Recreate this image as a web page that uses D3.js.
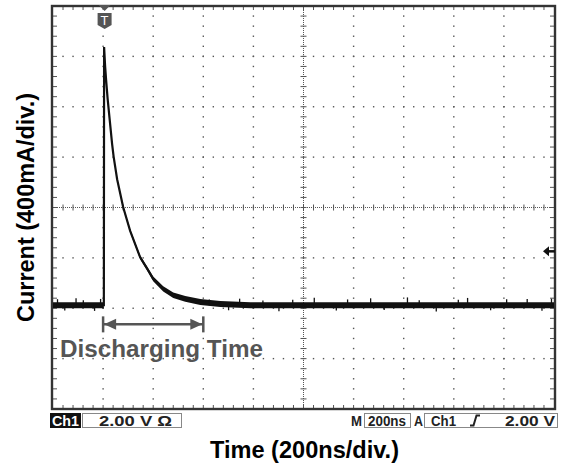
<!DOCTYPE html>
<html><head><meta charset="utf-8">
<script src="https://cdn.jsdelivr.net/npm/d3@7"></script>
<style>body{margin:0;background:#fff}svg{display:block}text{font-family:"Liberation Sans",Arial,sans-serif}</style>
</head><body><svg id="c" width="564" height="465"></svg>
<script>
// ---- data ----
const timeNs    = [0, 203, 204, 208, 212, 218, 226, 236, 242, 256, 280, 308, 348, 376, 400, 440, 480, 528, 588, 668, 788, 2000];
const currentMA = [0, 0, 2050, 1900, 1790, 1640, 1480, 1280, 1180, 1000, 780, 590, 380, 290, 210, 130, 80, 50, 25, 10, 0, 0];
const noiseMA   = [24, 24, 5, 8, 8, 8, 8, 8, 9, 10, 11, 13, 15, 17, 19, 21, 22, 23, 24, 24, 24, 24];
const spikeTimeNs = [18, 47, 92, 121, 166, 190, 624, 701, 745, 838, 902, 957, 1043, 1131, 1176, 1268, 1322, 1415, 1462, 1530, 1618, 1655, 1747, 1811, 1893, 1952, 1990];
const spikeMA     = [48, -42, 55, 40, -45, 50, 45, -40, 52, 38, -48, 44, 60, -42, 46, 55, -38, 62, 40, -50, 44, 58, -40, 48, 50, -44, 52];
const xDivCount = 10, yDivCount = 8;
const nsPerDiv = 200, mAPerDiv = 400;
const groundDiv = -1.94;       // ground level, divisions from centre
const triggerLevelDiv = -0.87; // trigger level marker on right edge
const dischargeStartNs = 200, dischargeEndNs = 600, dischargeLabelDiv = -2.32;
const statusLeft = ["Ch1", "2.00 V \u03A9"];
const statusRight = ["M", "200ns", "A", "Ch1", "2.00 V"];
const xTitle = "Time (200ns/div.)";
const yTitle = "Current (400mA/div.)";
const annotation = "Discharging Time";

// ---- drawing ----
const svg = d3.select("#c");
const L = 53, R = 554, T = 6, B = 409;
const x = d3.scaleLinear().domain([0, xDivCount * nsPerDiv]).range([L, R]);
const yd = d3.scaleLinear().domain([-yDivCount / 2, yDivCount / 2]).range([B, T]);
const yI = v => yd(groundDiv + v / mAPerDiv);
const xDiv = d => x(d * nsPerDiv);
const grid = svg.append("g");
const gc = "#555";

// dotted graticule lines
for (let i = 1; i < xDivCount; i++) {
  if (i === xDivCount / 2) continue;
  for (let k = 1; k < yDivCount * 5; k++) {
    grid.append("rect").attr("x", xDiv(i) - 0.7).attr("y", yd(-4 + k / 5) - 0.7).attr("width", 1.4).attr("height", 1.4).attr("fill", gc);
  }
}
for (let j = -yDivCount / 2 + 1; j < yDivCount / 2; j++) {
  if (j === 0) continue;
  for (let k = 1; k < xDivCount * 5; k++) {
    grid.append("rect").attr("x", xDiv(k / 5) - 0.7).attr("y", yd(j) - 0.7).attr("width", 1.4).attr("height", 1.4).attr("fill", gc);
  }
}
// centre lines with minor ticks
grid.append("line").attr("x1", L).attr("x2", R).attr("y1", yd(0)).attr("y2", yd(0)).attr("stroke", gc).attr("stroke-width", 1).attr("stroke-dasharray", "1,1");
grid.append("line").attr("y1", T).attr("y2", B).attr("x1", xDiv(5)).attr("x2", xDiv(5)).attr("stroke", gc).attr("stroke-width", 1).attr("stroke-dasharray", "1,1");
for (let k = 1; k < xDivCount * 5; k++) {
  const xx = xDiv(k / 5);
  grid.append("line").attr("x1", xx).attr("x2", xx).attr("y1", yd(0) - 3).attr("y2", yd(0) + 3).attr("stroke", gc).attr("stroke-width", 1);
  grid.append("line").attr("x1", xx).attr("x2", xx).attr("y1", T).attr("y2", T + 4).attr("stroke", gc).attr("stroke-width", 1);
  grid.append("line").attr("x1", xx).attr("x2", xx).attr("y1", B - 4).attr("y2", B).attr("stroke", gc).attr("stroke-width", 1);
}
for (let k = 1; k < yDivCount * 5; k++) {
  const yy = yd(-4 + k / 5);
  grid.append("line").attr("y1", yy).attr("y2", yy).attr("x1", xDiv(5) - 3).attr("x2", xDiv(5) + 3).attr("stroke", gc).attr("stroke-width", 1);
  grid.append("line").attr("y1", yy).attr("y2", yy).attr("x1", L).attr("x2", L + 4).attr("stroke", gc).attr("stroke-width", 1);
  grid.append("line").attr("y1", yy).attr("y2", yy).attr("x1", R - 4).attr("x2", R).attr("stroke", gc).attr("stroke-width", 1);
}
// frame
svg.append("rect").attr("x", L - 1).attr("y", T).attr("width", R - L + 2).attr("height", B - T)
  .attr("fill", "none").attr("stroke", "#333").attr("stroke-width", 2.4);

// trace envelope + centre line
const pts = timeNs.map((t, i) => ({ t, v: currentMA[i], n: noiseMA[i] }));
svg.append("path").datum(pts)
  .attr("d", d3.area().x(d => x(d.t)).y0(d => yI(d.v - d.n)).y1(d => yI(d.v + d.n)))
  .attr("fill", "#111");
svg.append("path").datum(pts)
  .attr("d", d3.line().x(d => x(d.t)).y(d => yI(d.v)))
  .attr("fill", "none").attr("stroke", "#111").attr("stroke-width", 2.2);
svg.append("g").selectAll("line").data(spikeTimeNs).join("line")
  .attr("x1", d => x(d)).attr("x2", d => x(d))
  .attr("y1", yI(0)).attr("y2", (d, i) => yI(spikeMA[i]))
  .attr("stroke", "#111").attr("stroke-width", 1.3);

// trigger position marker (T)
const tx = x(dischargeStartNs) + 1.5;
svg.append("path").attr("d", `M${tx - 6},${T - 1}L${tx + 6},${T - 1}L${tx},${T + 5}Z`).attr("fill", "#555");
svg.append("path").attr("d", `M${tx - 7},${T + 7}H${tx + 7}V${T + 19}L${tx},${T + 23}L${tx - 7},${T + 19}Z`).attr("fill", "#555");
svg.append("text").attr("x", tx).attr("y", T + 19).attr("text-anchor", "middle").attr("fill", "#fff")
  .attr("font-size", 13).text("T");

// trigger level arrow on right edge
const ty = yd(triggerLevelDiv);
svg.append("path").attr("d", `M${R - 11},${ty}L${R - 5},${ty - 5}L${R - 5},${ty + 5}Z`).attr("fill", "#111");
svg.append("line").attr("x1", R - 6).attr("x2", R + 1).attr("y1", ty).attr("y2", ty).attr("stroke", "#111").attr("stroke-width", 2.5);

// discharging time annotation
const ac = "#555", ay = yd(dischargeLabelDiv), ax1 = x(dischargeStartNs), ax2 = x(dischargeEndNs);
svg.append("line").attr("x1", ax1).attr("x2", ax2).attr("y1", ay).attr("y2", ay).attr("stroke", ac).attr("stroke-width", 2.5);
[ax1, ax2].forEach(xx => svg.append("line").attr("x1", xx).attr("x2", xx).attr("y1", ay - 8).attr("y2", ay + 8).attr("stroke", ac).attr("stroke-width", 2.5));
svg.append("path").attr("d", `M${ax1 + 1},${ay}L${ax1 + 13},${ay - 5.5}L${ax1 + 13},${ay + 5.5}Z`).attr("fill", ac);
svg.append("path").attr("d", `M${ax2 - 1},${ay}L${ax2 - 13},${ay - 5.5}L${ax2 - 13},${ay + 5.5}Z`).attr("fill", ac);
svg.append("text").attr("x", 60).attr("y", 357).attr("font-size", 23).attr("font-weight", "bold").attr("fill", ac)
  .attr("textLength", 203).attr("lengthAdjust", "spacingAndGlyphs").text(annotation);

// status bar
const sy = 413, sh = 15, sb = 426, fs = 14;
function st(txt, x0, len, fill) {
  svg.append("text").attr("x", x0).attr("y", sb).attr("font-size", fs).attr("font-weight", "bold")
    .attr("fill", fill || "#222")
    .attr("textLength", len).attr("lengthAdjust", "spacingAndGlyphs").text(txt);
}
function box(x0, w, fill) {
  svg.append("rect").attr("x", x0 + 0.5).attr("y", sy + 0.5).attr("width", w).attr("height", sh - 1)
    .attr("fill", fill || "#fff").attr("stroke", fill ? fill : "#888");
}
box(50, 30, "#111");
st(statusLeft[0], 52, 27, "#fff");
box(82, 99);
st(statusLeft[1], 99, 73);
st(statusRight[0], 351, 11);
box(364, 46);
st(statusRight[1], 368, 38);
st(statusRight[2], 414, 9);
box(424, 133);
st(statusRight[3], 431, 25);
svg.append("path").attr("d", "M470,425.5h3.5l3,-10h3.5").attr("fill", "none").attr("stroke", "#222").attr("stroke-width", 2);
st(statusRight[4], 505, 50);

// axis titles
svg.append("text").attr("x", 304.5).attr("y", 458).attr("text-anchor", "middle").attr("font-size", 23).attr("font-weight", "bold")
  .attr("textLength", 189).attr("lengthAdjust", "spacingAndGlyphs").text(xTitle);
svg.append("text").attr("transform", "translate(34,207.5) rotate(-90)").attr("text-anchor", "middle").attr("font-size", 23).attr("font-weight", "bold")
  .attr("textLength", 229).attr("lengthAdjust", "spacingAndGlyphs").text(yTitle);
</script></body></html>
